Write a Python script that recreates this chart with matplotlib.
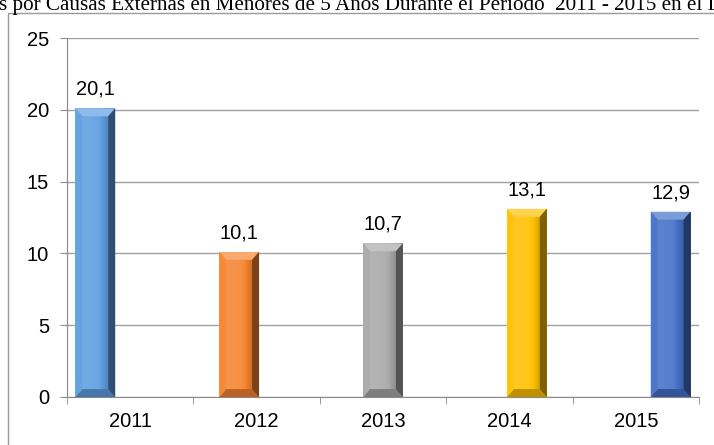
import numpy as np
import matplotlib
matplotlib.use("Agg")
import matplotlib.pyplot as plt
from matplotlib.patches import Polygon, Rectangle
from matplotlib.colors import to_rgb

years = ["2011", "2012", "2013", "2014", "2015"]
values = [20.1, 10.1, 10.7, 13.1, 12.9]
labels = ["20,1", "10,1", "10,7", "13,1", "12,9"]
colors = ["#5E9EE0", "#F5842F", "#A8A8A8", "#FFC000", "#4470C8"]

plt.rcParams["font.family"] = ["Liberation Sans", "DejaVu Sans"]

fig = plt.figure(figsize=(7.14, 4.45), dpi=100)
ax = fig.add_axes([67 / 714, 48 / 445, 632 / 714, 359 / 445])

# title (cut off at the top, as in the original) and outer chart border
fig.text(-0.002, 1 - 10 / 445, "s por Causas Externas en Menores de 5 Años Durante el Periodo  2011 - 2015 en el Distrito",
         family=["Liberation Serif", "DejaVu Serif"], fontsize=15.2, va="baseline", ha="left")
fig.patches.append(Rectangle((8 / 714, -0.1), 1.0, 1 - 13 / 445 + 0.1, transform=fig.transFigure,
                             fill=False, edgecolor="#9a9a9a", linewidth=1.0))

def shade(c, f):
    r = np.array(to_rgb(c))
    if f > 0:
        return tuple(r + (1 - r) * f)
    return tuple(r * (1 + f))

offset = 0.138
width = 0.315
x = np.arange(len(years)) + (np.arange(len(years)) - 2) * offset
bars = ax.bar(x, values, width=width, color=colors, zorder=3, linewidth=0)

bx = 0.055   # bevel width in data units
by = 0.55    # bevel height in data units
for b, c, lab in zip(bars, colors, labels):
    x0, w, h = b.get_x(), b.get_width(), b.get_height()
    # horizontal gradient for the body: light on the left, darker to the right
    grad = np.linspace(0, 1, 64)
    cols = np.array([shade(c, 0.15 - 0.1 * g) if g < 0.55 else shade(c, 0.1 - 0.9 * (g - 0.55)) for g in grad])
    img = ax.imshow(cols[np.newaxis, :, :], extent=(x0, x0 + w, 0, h), aspect="auto", zorder=3.1,
                    interpolation="bicubic")
    img.set_clip_path(b)
    # bevels
    ax.add_patch(Polygon([(x0, h), (x0 + w, h), (x0 + w - bx, h - by), (x0 + bx, h - by)],
                         closed=True, color=shade(c, 0.3), lw=0, zorder=3.2))
    ax.add_patch(Polygon([(x0, 0), (x0 + w, 0), (x0 + w - bx, by), (x0 + bx, by)],
                         closed=True, color=shade(c, -0.25), lw=0, zorder=3.2))
    ax.add_patch(Polygon([(x0, 0), (x0 + bx, by), (x0 + bx, h - by), (x0, h)],
                         closed=True, color=shade(c, 0.05), lw=0, zorder=3.2))
    ax.add_patch(Polygon([(x0 + w, 0), (x0 + w - bx, by), (x0 + w - bx, h - by), (x0 + w, h)],
                         closed=True, color=shade(c, -0.5), lw=0, zorder=3.2))
    ax.annotate(lab, (x0 + w / 2, h), xytext=(0, 7), textcoords="offset points",
                ha="center", va="bottom", fontsize=14.5)

ax.set_xlim(-0.5, 4.5)
ax.set_ylim(0, 25)
ax.set_yticks([0, 5, 10, 15, 20, 25])
ax.set_xticks(range(len(years)))
ax.set_xticklabels(years)
ax.set_xticks(np.arange(-0.5, 5, 1), minor=True)
ax.tick_params(axis="x", which="major", length=0, labelsize=14.5, pad=11)
ax.tick_params(axis="x", which="minor", length=5, color="#8a8a8a")
ax.tick_params(axis="y", length=5, color="#8a8a8a", labelsize=14.5, pad=8)
ax.yaxis.grid(True, color="#a0a0a0", linewidth=1.0, zorder=0)
ax.set_axisbelow(True)
for s in ["top", "right"]:
    ax.spines[s].set_visible(False)
for s in ["left", "bottom"]:
    ax.spines[s].set_color("#8a8a8a")

fig.savefig("out.png", dpi=100)
